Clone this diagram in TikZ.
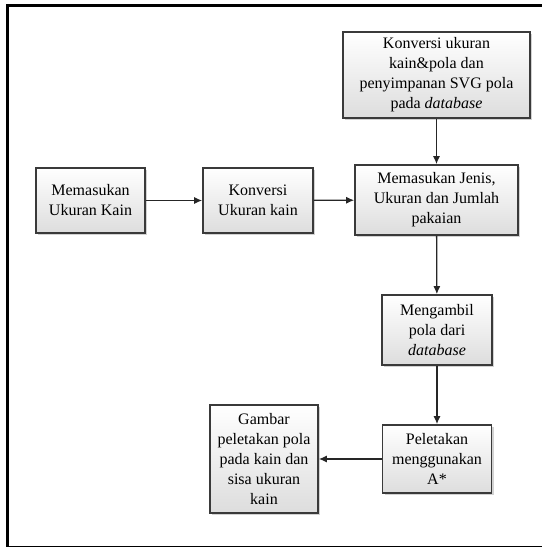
\documentclass[tikz,border=0pt]{standalone}
\usepackage{fontspec}
\setmainfont{Liberation Serif}
\usetikzlibrary{arrows.meta,positioning,shadows}
\definecolor{edge}{HTML}{3A3A3A}
\definecolor{shade}{HTML}{DDDDDD}

\tikzset{
  stepbox/.style={draw=edge,line width=1.6pt,top color=white,bottom color=shade,
    drop shadow={shadow xshift=2pt,shadow yshift=-2pt,fill=gray!70},
    align=center,inner sep=2pt,font=\fontsize{16}{20}\selectfont},
  flow/.style={-{Latex[length=8pt,width=7pt]},line width=1.3pt,black!85}
}

\begin{document}
\begin{tikzpicture}[x=1pt,y=-1pt]
  \useasboundingbox (0,0) rectangle (542,547);
  % frame
  \draw[line width=3pt] (7.5,547) -- (7.5,5.5) -- (542,5.5);
  \draw[line width=1pt] (7.5,546) -- (542,546);

  \node[stepbox,minimum width=187pt,minimum height=86pt] (svg) at (436.5,75)
    {Konversi ukuran\\kain\&pola dan\\penyimpanan SVG pola\\pada \textit{database}};
  \node[stepbox,minimum width=109pt,minimum height=65pt] (input) at (90.5,200.5)
    {Memasukan\\Ukuran Kain};
  \node[stepbox,minimum width=110pt,minimum height=65pt] (konv) at (258,200.5)
    {Konversi\\Ukuran kain};
  \node[stepbox,minimum width=163pt,minimum height=70pt] (jenis) at (436.5,200)
    {Memasukan Jenis,\\Ukuran dan Jumlah\\pakaian};
  \node[stepbox,minimum width=110pt,minimum height=70pt] (ambil) at (437,330)
    {Mengambil\\pola dari\\\textit{database}};
  \node[stepbox,minimum width=109pt,minimum height=68pt] (letak) at (437,459)
    {Peletakan\\menggunakan\\A*};
  \node[stepbox,minimum width=108pt,minimum height=108pt] (hasil) at (264,459)
    {Gambar\\peletakan pola\\pada kain dan\\sisa ukuran\\kain};

  \draw[flow] (input) -- (konv);
  \draw[flow] (konv) -- (jenis);
  \draw[flow] (svg) -- (jenis);
  \draw[flow] (jenis) -- (ambil);
  \draw[flow] (ambil) -- (letak);
  \draw[flow] (letak) -- (hasil);
\end{tikzpicture}
\end{document}
